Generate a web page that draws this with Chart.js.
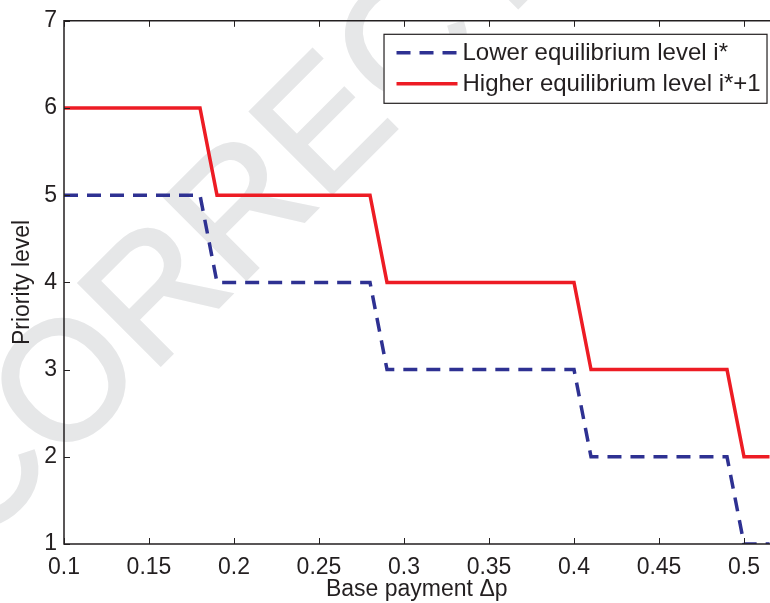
<!DOCTYPE html>
<html>
<head>
<meta charset="utf-8">
<script src="https://cdn.jsdelivr.net/npm/chart.js@4.4.1/dist/chart.umd.min.js"></script>
<style>
  html, body { margin: 0; padding: 0; background: #fff; }
</style>
</head>
<body>
<canvas id="stepChart" width="770" height="603"></canvas>
<script>
// base payment breakpoints and the priority level reached at each one
var lowerX = [0.1, 0.18, 0.19, 0.28, 0.29, 0.40, 0.41, 0.49, 0.50, 0.52];
var lowerY = [5, 5, 4, 4, 3, 3, 2, 2, 1, 1];
var higherX = [0.1, 0.18, 0.19, 0.28, 0.29, 0.40, 0.41, 0.49, 0.50, 0.52];
var higherY = [6, 6, 5, 5, 4, 4, 3, 3, 2, 2];
var xTicks = [0.1, 0.15, 0.2, 0.25, 0.3, 0.35, 0.4, 0.45, 0.5];
var yTicks = [1, 2, 3, 4, 5, 6, 7];
var seriesNames = ["Lower equilibrium level i*", "Higher equilibrium level i*+1"];
var stampText = "CORRECTED PROOF";

var FONT = '"Liberation Sans", Arial, Helvetica, sans-serif';
var INK = "#231f20";

var toPoints = function (xs, ys) {
    var pts = [];
    for (var c = 0; c < xs.length; c++) {
        pts.push({ x: xs[c], y: ys[c] });
    }
    return pts;
};

// big grey proof stamp behind everything
var proofStamp = {
    id: "proofStamp",
    beforeDraw: function (chart) {
        var ctx = chart.ctx;
        ctx.save();
        ctx.font = "168px " + FONT;
        ctx.fillStyle = "#e6e7e8";
        ctx.strokeStyle = "#e6e7e8";
        ctx.lineWidth = 3;
        ctx.textBaseline = "middle";
        ctx.translate(72, 388);
        ctx.rotate(-Math.PI / 4);
        var x0 = -(ctx.measureText("C").width + ctx.measureText("O").width / 2);
        ctx.fillText(stampText, x0, 0);
        ctx.strokeText(stampText, x0, 0);
        ctx.restore();
    }
};

// box frame with inward tick marks, matlab style
var boxFrame = {
    id: "boxFrame",
    afterDraw: function (chart) {
        var ctx = chart.ctx, a = chart.chartArea;
        var xs = chart.scales.x, ys = chart.scales.y;
        ctx.save();
        ctx.strokeStyle = INK;
        ctx.lineWidth = 1.5;
        ctx.beginPath();
        ctx.moveTo(a.right + 2, a.top);
        ctx.lineTo(a.left, a.top);
        ctx.lineTo(a.left, a.bottom);
        ctx.lineTo(a.right + 2, a.bottom);
        ctx.stroke();
        ctx.lineWidth = 1;
        ctx.beginPath();
        for (var i = 0; i < xTicks.length; i++) {
            var px = Math.round(xs.getPixelForValue(xTicks[i])) + 0.5;
            ctx.moveTo(px, a.bottom);
            ctx.lineTo(px, a.bottom - 6);
            ctx.moveTo(px, a.top);
            ctx.lineTo(px, a.top + 6);
        }
        for (var j = 0; j < yTicks.length; j++) {
            var py = Math.round(ys.getPixelForValue(yTicks[j])) + 0.5;
            ctx.moveTo(a.left, py);
            ctx.lineTo(a.left + 6, py);
        }
        ctx.stroke();
        ctx.restore();
    }
};

// legend drawn inside the plot, top right
var boxLegend = {
    id: "boxLegend",
    afterDraw: function (chart) {
        var ctx = chart.ctx, a = chart.chartArea;
        var w = 383, h = 69;
        var x = a.right - 386, y = a.top + 13;
        ctx.save();
        ctx.fillStyle = "#fff";
        ctx.fillRect(x, y, w, h);
        ctx.strokeStyle = INK;
        ctx.lineWidth = 1.2;
        ctx.strokeRect(x + 0.5, y + 0.5, w, h);
        ctx.font = "24px " + FONT;
        ctx.textBaseline = "middle";
        var sets = chart.data.datasets;
        for (var c = 0; c < sets.length; c++) {
            var ry = y + 19 + c * 31;
            ctx.strokeStyle = sets[c].borderColor;
            ctx.lineWidth = sets[c].borderWidth;
            ctx.setLineDash(sets[c].borderDash || []);
            ctx.beginPath();
            ctx.moveTo(x + 13, ry);
            ctx.lineTo(x + 74, ry);
            ctx.stroke();
            ctx.setLineDash([]);
            ctx.fillStyle = INK;
            ctx.fillText(sets[c].label, x + 79, ry + 1);
        }
        ctx.restore();
    }
};

var tickFont = { family: FONT, size: 23 };

new Chart(document.getElementById("stepChart"), {
    type: "line",
    data: {
        datasets: [
            {
                label: seriesNames[0],
                data: toPoints(lowerX, lowerY),
                borderColor: "#2e3192",
                borderWidth: 3.5,
                borderDash: [14, 9],
                pointRadius: 0,
                fill: false,
                tension: 0
            },
            {
                label: seriesNames[1],
                data: toPoints(higherX, higherY),
                borderColor: "#ed1c24",
                borderWidth: 3.5,
                pointRadius: 0,
                fill: false,
                tension: 0
            }
        ]
    },
    options: {
        responsive: false,
        animation: false,
        layout: { padding: { top: 20, right: 0, left: 0, bottom: 0 } },
        plugins: {
            legend: { display: false },
            tooltip: { enabled: false }
        },
        scales: {
            x: {
                type: "linear",
                min: 0.1,
                max: 0.515,
                afterBuildTicks: function (scale) {
                    scale.ticks = xTicks.map(function (v) { return { value: v }; });
                },
                afterFit: function (scale) { scale.height = 59; },
                grid: { display: false, drawTicks: false },
                border: { display: false },
                ticks: {
                    color: INK,
                    font: tickFont,
                    padding: 10,
                    maxRotation: 0,
                    autoSkip: false,
                    callback: function (v) { return String(v); }
                },
                title: {
                    display: true,
                    text: "Base payment \u0394p",
                    color: INK,
                    font: tickFont,
                    padding: { top: 0, bottom: 0 }
                }
            },
            y: {
                type: "linear",
                min: 1,
                max: 7,
                afterBuildTicks: function (scale) {
                    scale.ticks = yTicks.map(function (v) { return { value: v }; });
                },
                afterFit: function (scale) { scale.width = 64; },
                grid: { display: false, drawTicks: false },
                border: { display: false },
                ticks: {
                    color: INK,
                    font: tickFont,
                    padding: 7,
                    autoSkip: false,
                    callback: function (v) { return String(v); }
                },
                title: {
                    display: true,
                    text: "Priority level",
                    color: INK,
                    font: tickFont,
                    padding: { top: 9, bottom: 0 }
                }
            }
        }
    },
    plugins: [proofStamp, boxFrame, boxLegend]
});
</script>
</body>
</html>
